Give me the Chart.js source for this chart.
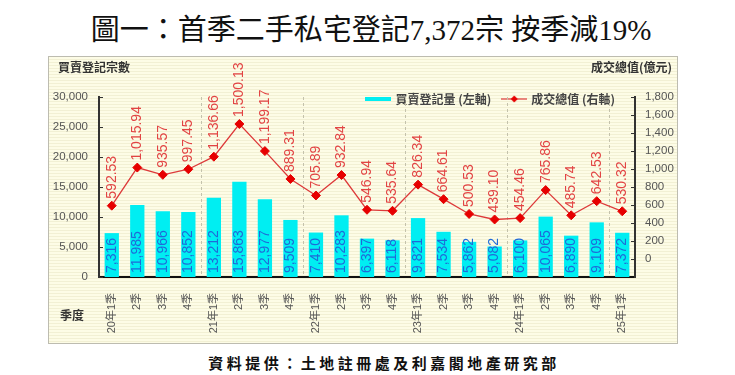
<!DOCTYPE html>
<html>
<head>
<meta charset="utf-8">
<script src="https://cdn.jsdelivr.net/npm/chart.js@4.4.1/dist/chart.umd.min.js"></script>
<style>
html,body{margin:0;padding:0;background:#fff;width:735px;height:375px;overflow:hidden;}
#title{position:absolute;left:0;top:12px;width:742px;text-align:center;white-space:nowrap;
  font-family:"Liberation Serif","Times New Roman","Noto Sans CJK TC",serif;font-size:29px;line-height:36px;color:#111;}
#panel{position:absolute;left:48px;top:56px;width:628px;height:286px;border:1px solid #bdbcb0;
  background:repeating-linear-gradient(to bottom,#fdfce6 0px,#fdfce6 2px,#f2f0d4 2px,#f2f0d4 3px);}
#wrap{position:absolute;left:48px;top:56px;width:630px;height:288px;}
.lbl{position:absolute;font-family:"Noto Sans CJK TC","Noto Sans CJK SC",sans-serif;font-weight:bold;font-size:12px;line-height:16px;color:#333;white-space:nowrap;}
#footer{position:absolute;left:0;top:353px;width:768px;text-align:center;white-space:nowrap;
  font-family:"Noto Sans CJK TC",sans-serif;font-weight:bold;font-size:15px;line-height:20px;letter-spacing:3.5px;color:#111;}
</style>
</head>
<body>
<div id="title">圖一：首季二手私宅登記7,372宗 按季減19%</div>
<div id="panel"></div>
<div id="wrap"><canvas id="c" width="630" height="288"></canvas></div>
<div class="lbl" style="left:58px;top:59px;">買賣登記宗數</div>
<div class="lbl" style="right:63px;top:59px;">成交總值(億元)</div>
<div class="lbl" style="left:60px;top:307px;">季度</div>
<div id="footer">資料提供：土地註冊處及利嘉閣地產研究部</div>
<script>
const quarters = ["20年1季","2季","3季","4季","21年1季","2季","3季","4季","22年1季","2季","3季","4季","23年1季","2季","3季","4季","24年1季","2季","3季","4季","25年1季"];
const registrations = [7316, 11985, 10966, 10852, 13212, 15863, 12977, 9509, 7410, 10283, 6397, 6118, 9821, 7534, 5862, 5082, 6100, 10065, 6890, 9109, 7372];
const totalValue = [592.53, 1015.94, 935.57, 997.45, 1136.66, 1500.13, 1199.17, 889.31, 705.89, 932.84, 546.94, 535.64, 826.34, 664.61, 500.53, 439.10, 454.46, 765.86, 485.74, 642.53, 530.32];
const seriesNames = ["買賣登記量 (左軸)", "成交總值 (右軸)"];
const leftAxisMax = 30000, leftAxisStep = 5000;
const rightAxisMax = 1800, rightAxisStep = 200;
const yearStartIndex = [4, 8, 12, 16, 20];

const BAR_COLOR = '#00eef2';
const LINE_COLOR = '#dd3a3a';
const POINT_COLOR = '#e60000';
const NUM_FONT = '"Liberation Sans", Arial, sans-serif';

const fmt0 = v => v.toLocaleString('en-US');
const fmt2 = v => v.toLocaleString('en-US', {minimumFractionDigits: 2, maximumFractionDigits: 2});

function makeSwatch(kind) {
  const c = document.createElement('canvas');
  c.width = 26; c.height = 10;
  const g = c.getContext('2d');
  if (kind === 'bar') {
    g.fillStyle = BAR_COLOR; g.fillRect(0, 3, 26, 4);
  } else {
    g.strokeStyle = LINE_COLOR; g.lineWidth = 1.2;
    g.beginPath(); g.moveTo(0, 5); g.lineTo(26, 5); g.stroke();
    g.fillStyle = POINT_COLOR;
    g.beginPath(); g.moveTo(13, 1.5); g.lineTo(16.5, 5); g.lineTo(13, 8.5); g.lineTo(9.5, 5); g.closePath(); g.fill();
  }
  return c;
}
const swatches = [makeSwatch('bar'), makeSwatch('line')];

const decor = {
  id: 'decor',
  beforeUpdate(chart) {
    if (chart.legend) chart.legend.isHorizontal = () => true;
  },
  afterLayout(chart) {
    const l = chart.legend, a = chart.chartArea;
    if (!l || !a) return;
    const h = l.height;
    l.left = a.left - 8; l.right = a.right - 8;
    l.top = a.top - 16; l.bottom = l.top + h;
  },
  beforeDatasetsDraw(chart) {
    const {ctx, chartArea: a, scales: {x}} = chart;
    ctx.save();
    ctx.strokeStyle = '#c4c2ac'; ctx.lineWidth = 1; ctx.setLineDash([3, 3]);
    yearStartIndex.forEach(i => {
      const px = Math.round((x.getPixelForValue(i - 1) + x.getPixelForValue(i)) / 2) + 0.5;
      ctx.beginPath(); ctx.moveTo(px, a.top); ctx.lineTo(px, a.bottom); ctx.stroke();
    });
    ctx.restore();
  },
  afterDatasetsDraw(chart) {
    const {ctx, chartArea: a, scales: {y, y1}} = chart;
    ctx.save();
    ctx.strokeStyle = '#333'; ctx.lineWidth = 1;
    y.ticks.forEach(t => {
      const py = Math.round(y.getPixelForValue(t.value)) + 0.5;
      ctx.beginPath(); ctx.moveTo(a.left, py); ctx.lineTo(a.left + 4, py); ctx.stroke();
    });
    y1.ticks.forEach(t => {
      if (t.value < 0) return;
      const py = Math.round(y1.getPixelForValue(t.value)) + 0.5;
      ctx.beginPath(); ctx.moveTo(a.right - 4, py); ctx.lineTo(a.right, py); ctx.stroke();
    });
    ctx.font = '14px ' + NUM_FONT;
    ctx.textAlign = 'left'; ctx.textBaseline = 'middle';
    chart.getDatasetMeta(0).data.forEach((el, i) => {
      ctx.save(); ctx.translate(el.x, el.base - 4); ctx.rotate(-Math.PI / 2);
      ctx.fillStyle = '#1f6ad8'; ctx.fillText(fmt0(registrations[i]), 0, 0); ctx.restore();
    });
    chart.getDatasetMeta(1).data.forEach((el, i) => {
      ctx.save(); ctx.translate(el.x, el.y - 7); ctx.rotate(-Math.PI / 2);
      ctx.fillStyle = '#e24444'; ctx.fillText(fmt2(totalValue[i]), 0, 0); ctx.restore();
    });
    ctx.restore();
  }
};

new Chart(document.getElementById('c'), {
  data: {
    labels: quarters,
    datasets: [
      { type: 'bar', label: seriesNames[0], data: registrations, yAxisID: 'y', order: 2,
        backgroundColor: BAR_COLOR, borderWidth: 0, barPercentage: 0.56, categoryPercentage: 1 },
      { type: 'line', label: seriesNames[1], data: totalValue, yAxisID: 'y1', order: 1,
        borderColor: LINE_COLOR, borderWidth: 1.3, pointStyle: 'rectRot', pointRadius: 4.5,
        pointBackgroundColor: POINT_COLOR, pointBorderColor: POINT_COLOR, pointBorderWidth: 1, tension: 0 }
    ]
  },
  options: {
    responsive: false,
    animation: false,
    events: [],
    layout: { padding: { top: 41, left: 0, right: 0, bottom: 0 } },
    plugins: {
      tooltip: { enabled: false },
      legend: {
        position: 'chartArea', align: 'end',
        labels: {
          usePointStyle: true, pointStyleWidth: 22, padding: 12, color: '#444',
          font: { family: '"Noto Sans CJK TC", sans-serif', size: 12, weight: 'bold' },
          generateLabels: chart => chart.data.datasets.map((ds, i) => ({
            text: ds.label, pointStyle: swatches[i], fontColor: '#444', datasetIndex: i,
            hidden: false, lineWidth: 0, strokeStyle: 'rgba(0,0,0,0)', fillStyle: 'rgba(0,0,0,0)'
          }))
        }
      }
    },
    scales: {
      x: {
        grid: { display: false },
        border: { display: true, color: '#111', width: 2 },
        ticks: { autoSkip: false, maxRotation: 90, minRotation: 90, padding: 8, color: '#555',
          font: { family: '"Liberation Sans", Arial, "Noto Sans CJK TC", sans-serif', size: 11 } },
        afterFit: s => { s.height = 67; }
      },
      y: {
        position: 'left', min: 0, max: leftAxisMax,
        grid: { display: false, drawTicks: false },
        border: { display: true, color: '#333', width: 2 },
        ticks: { stepSize: leftAxisStep, padding: 11, color: '#555', font: { family: NUM_FONT, size: 11.5 },
          callback: v => fmt0(v) },
        afterFit: s => { s.width = 51; }
      },
      y1: {
        position: 'right', min: -rightAxisStep, max: rightAxisMax,
        grid: { display: false, drawTicks: false },
        border: { display: true, color: '#333', width: 2 },
        ticks: { stepSize: rightAxisStep, padding: 10, color: '#555', font: { family: NUM_FONT, size: 11.5 },
          callback: v => (v < 0 ? '' : fmt0(v)) },
        afterFit: s => { s.width = 43; }
      }
    }
  },
  plugins: [decor]
});
</script>
</body>
</html>
